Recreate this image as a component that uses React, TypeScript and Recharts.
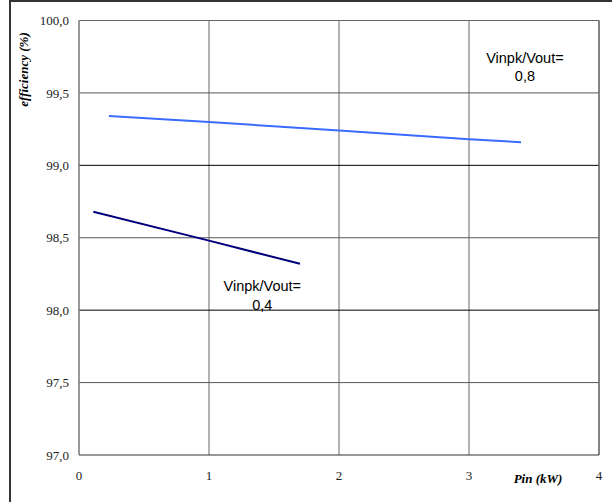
import {
  CartesianGrid,
  Label,
  Line,
  LineChart,
  ReferenceDot,
  ReferenceLine,
  XAxis,
  YAxis,
} from "recharts";

// Vinpk/Vout = 0,8 (light blue)
const pinHigh = [0.23, 1, 2, 3, 3.4];
const effHigh = [99.34, 99.3, 99.24, 99.18, 99.16];

// Vinpk/Vout = 0,4 (navy)
const pinLow = [0.11, 1, 1.7];
const effLow = [98.68, 98.48, 98.32];

const xTicks = [0, 1, 2, 3, 4];
const yTicks = [97, 97.5, 98, 98.5, 99, 99.5, 100];

const highData = pinHigh.map((pin, i) => ({ pin, eff: effHigh[i] }));
const lowData = pinLow.map((pin, i) => ({ pin, eff: effLow[i] }));

const serif = "'Liberation Serif', 'Times New Roman', serif";
const sans = "'Liberation Sans', Arial, sans-serif";

function fmtY(v: number): string {
  return v.toFixed(1).replace(".", ",");
}

function noteLabel(line1: string, line2: string) {
  return (props: any) => {
    const vb = props.viewBox || {};
    const cx = (vb.x ?? 0) + (vb.width ?? 0) / 2;
    const cy = (vb.y ?? 0) + (vb.height ?? 0) / 2;
    return (
      <text
        x={cx}
        y={cy}
        textAnchor="middle"
        fontFamily={sans}
        fontSize={14.5}
        fill="#000"
      >
        <tspan x={cx} dy={0}>
          {line1}
        </tspan>
        <tspan x={cx} dy={18.5}>
          {line2}
        </tspan>
      </text>
    );
  };
}

function YTitle(props: any) {
  const vb = props.viewBox || { x: 0, y: 0 };
  return (
    <text
      transform={`translate(${vb.x + 28}, ${vb.y + 49}) rotate(-90)`}
      textAnchor="middle"
      fontFamily={serif}
      fontWeight="bold"
      fontStyle="italic"
      fontSize={13}
      fill="#000"
    >
      efficiency (%)
    </text>
  );
}

function XTitle(props: any) {
  const vb = props.viewBox || { x: 0, y: 0 };
  return (
    <text
      x={vb.x + 459}
      y={vb.y + 28}
      textAnchor="middle"
      fontFamily={serif}
      fontWeight="bold"
      fontStyle="italic"
      fontSize={13}
      fill="#000"
    >
      Pin (kW)
    </text>
  );
}

export default function App() {
  return (
    <div
      style={{
        position: "absolute",
        left: 0,
        top: 0,
        width: 612,
        height: 502,
        background: "#fff",
      }}
    >
      <LineChart
        width={612}
        height={502}
        margin={{ top: 20.5, right: 13, left: 0, bottom: 0 }}
      >
        <CartesianGrid horizontal={false} stroke="#666" strokeWidth={1} />
        <XAxis
          type="number"
          dataKey="pin"
          domain={[0, 4]}
          ticks={xTicks}
          allowDataOverflow
          height={47}
          tickLine={false}
          tickSize={0}
          tickMargin={16}
          axisLine={{ stroke: "#333", strokeWidth: 1.2 }}
          tick={{ fill: "#222", fontSize: 13, fontFamily: serif }}
        >
          <Label content={XTitle} />
        </XAxis>
        <YAxis
          type="number"
          dataKey="eff"
          domain={[97, 100]}
          ticks={yTicks}
          allowDataOverflow
          width={79}
          tickLine={false}
          tickSize={0}
          tickMargin={10}
          tickFormatter={fmtY}
          axisLine={{ stroke: "#888", strokeWidth: 1.2 }}
          tick={{ fill: "#222", fontSize: 13, fontFamily: serif }}
        >
          <Label content={YTitle} />
        </YAxis>
        {yTicks
          .filter((v) => v > 97)
          .map((v) => (
            <ReferenceLine
              key={v}
              y={v}
              stroke={v === 100 ? "#666" : Number.isInteger(v) ? "#000" : "#555"}
              strokeWidth={v === 100 ? 1.2 : 1}
            />
          ))}
        <ReferenceLine x={4} stroke="#666" strokeWidth={1.2} />
        <Line
          data={highData}
          dataKey="eff"
          type="linear"
          stroke="#3a6bff"
          strokeWidth={2}
          dot={false}
          activeDot={false}
          isAnimationActive={false}
        />
        <Line
          data={lowData}
          dataKey="eff"
          type="linear"
          stroke="#00007f"
          strokeWidth={2}
          dot={false}
          activeDot={false}
          isAnimationActive={false}
        />
        <ReferenceDot
          x={1.41}
          y={98.13}
          r={0}
          fill="none"
          stroke="none"
          label={noteLabel("Vinpk/Vout=", "0,4")}
        />
        <ReferenceDot
          x={3.43}
          y={99.71}
          r={0}
          fill="none"
          stroke="none"
          label={noteLabel("Vinpk/Vout=", "0,8")}
        />
      </LineChart>
      <div
        style={{
          position: "absolute",
          left: 9,
          top: 0,
          width: 603,
          height: 502,
          boxSizing: "border-box",
          borderLeft: "2px solid #333",
          borderTop: "2px solid #333",
          pointerEvents: "none",
        }}
      />
    </div>
  );
}
